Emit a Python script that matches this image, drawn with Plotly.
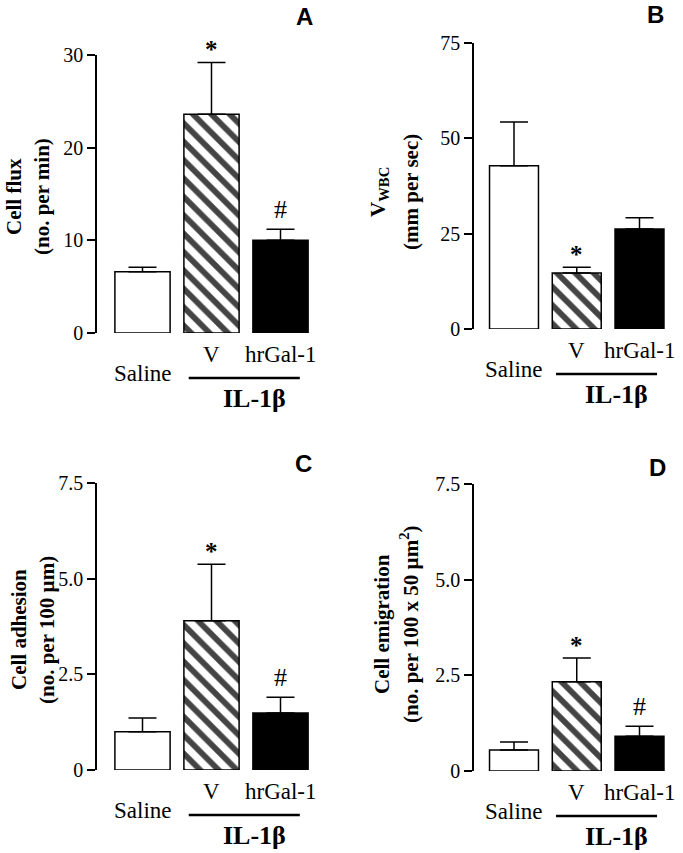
import plotly.graph_objects as go

# ---------------- data ----------------
categories = ["Saline", "V", "hrGal-1"]

cell_flux = [6.6, 23.6, 10.0]
cell_flux_err = [0.5, 5.6, 1.2]

v_wbc = [42.8, 14.7, 26.2]
v_wbc_err = [11.5, 1.5, 3.0]

cell_adhesion = [1.0, 3.9, 1.49]
cell_adhesion_err = [0.36, 1.48, 0.41]

cell_emigration = [0.55, 2.33, 0.91]
cell_emigration_err = [0.21, 0.62, 0.26]

marks_A = ["", "*", "#"]
marks_B = ["", "*", ""]
marks_C = ["", "*", "#"]
marks_D = ["", "*", "#"]

ticks_A = [0, 10, 20, 30]
ticks_B = [0, 25, 50, 75]
ticks_CD = [0, 2.5, 5.0, 7.5]
ticktext_A = ["0", "10", "20", "30"]
ticktext_B = ["0", "25", "50", "75"]
ticktext_CD = ["0", "2.5", "5.0", "7.5"]

group_label = "IL-1β"

# ---------------- layout helpers ----------------
W, H = 683, 853
SERIF = "Liberation Serif, Times New Roman, serif"
SANS = "Liberation Sans, Arial, sans-serif"


def px_x(x):
    return x / W


def px_y(y):
    return (H - y) / H


fills = ["white", "white", "black"]
patterns = ["", "\\", ""]

panels = [
    dict(name="A", vals=cell_flux, err=cell_flux_err, marks=marks_A,
         tv=ticks_A, tt=ticktext_A, ymax=30, bw=0.8,
         axis_x=97, first_c=142.5, step=69, right=320, y0=333, ytop=55,
         title=["<b>Cell flux</b>", "<b>(no. per min)</b>"],
         tx=[14, 42], ty=197, lab=(304, 17)),
    dict(name="B", vals=v_wbc, err=v_wbc_err, marks=marks_B,
         tv=ticks_B, tt=ticktext_B, ymax=75, bw=0.78,
         axis_x=474, first_c=514, step=62.75, right=680, y0=329, ytop=43,
         title=["<b>V<sub>WBC</sub></b>", "<b>(mm per sec)</b>"],
         tx=[379, 411], ty=192, lab=(655, 15)),
    dict(name="C", vals=cell_adhesion, err=cell_adhesion_err, marks=marks_C,
         tv=ticks_CD, tt=ticktext_CD, ymax=7.5, bw=0.8,
         axis_x=97, first_c=142.5, step=69, right=320, y0=770, ytop=483,
         title=["<b>Cell adhesion</b>", "<b>(no. per 100 µm)</b>"],
         tx=[19, 47], ty=630, lab=(303, 463)),
    dict(name="D", vals=cell_emigration, err=cell_emigration_err, marks=marks_D,
         tv=ticks_CD, tt=ticktext_CD, ymax=7.5, bw=0.78,
         axis_x=474, first_c=514, step=62.75, right=680, y0=771, ytop=484,
         title=["<b>Cell emigration</b>", "<b>(no. per 100 x 50 µm<sup>2</sup>)</b>"],
         tx=[382, 409], ty=624, lab=(657, 467)),
]

fig = go.Figure()
annotations = []
shapes = []

for i, p in enumerate(panels):
    k = "" if i == 0 else str(i + 1)
    xa, ya = "x" + k, "y" + k
    fig.add_trace(go.Bar(
        x=categories, y=p["vals"], xaxis=xa, yaxis=ya, width=p["bw"],
        marker=dict(color=fills, line=dict(color="black", width=1.5),
                    pattern=dict(shape=patterns, fillmode="overlay",
                                 fgcolor="black", fgopacity=1,
                                 size=13, solidity=0.45)),
        error_y=dict(type="data", symmetric=False, array=p["err"],
                     arrayminus=[0, 0, 0], color="black", thickness=1.5, width=14),
        showlegend=False, hoverinfo="skip",
    ))
    xmin = -(p["first_c"] - p["axis_x"]) / p["step"]
    xmax = (p["right"] - p["first_c"]) / p["step"]
    fig.update_layout(**{
        ("xaxis" + k): dict(domain=[px_x(p["axis_x"]), px_x(p["right"])],
                            type="category", categoryarray=categories,
                            range=[xmin, xmax], showticklabels=False,
                            showline=False, showgrid=False, zeroline=False,
                            anchor=ya, fixedrange=True, automargin=False),
        ("yaxis" + k): dict(domain=[px_y(p["y0"]), px_y(p["ytop"])],
                            range=[0, p["ymax"]], tickvals=p["tv"], ticktext=p["tt"],
                            showline=True, linecolor="black", linewidth=1.5,
                            ticks="outside", ticklen=8, tickwidth=1.5, tickcolor="black",
                            tickfont=dict(family=SERIF, size=20, color="black"),
                            showgrid=False, zeroline=False, anchor=xa,
                            fixedrange=True, automargin=False),
    })
    # category labels
    for j, c in enumerate(categories):
        annotations.append(dict(
            x=c, y=0, xref=xa, yref=ya, text=c, showarrow=False,
            xanchor="center", yanchor="middle",
            yshift=-(40 if j == 0 else 21),
            font=dict(family=SERIF, size=23, color="black")))
    # significance marks
    for j, m in enumerate(p["marks"]):
        if m:
            annotations.append(dict(
                x=categories[j], y=p["vals"][j] + p["err"][j], xref=xa, yref=ya,
                text=("<b>*</b>" if m == "*" else m), showarrow=False,
                xanchor="center", yanchor="middle",
                yshift=(13 if m == "*" else 20),
                font=dict(family=SERIF, size=(25 if m == "*" else 26), color="black")))
    # IL-1β bracket line + label
    line_y = px_y(p["y0"] + 45)
    shapes.append(dict(type="line", xref=xa, yref="paper",
                       x0=1 - 0.33, x1=2 + 0.28, y0=line_y, y1=line_y,
                       line=dict(color="black", width=2.5)))
    annotations.append(dict(
        x=1.63, y=px_y(p["y0"] + 65), xref=xa, yref="paper",
        text="<b>" + group_label + "</b>", showarrow=False,
        xanchor="center", yanchor="middle",
        font=dict(family=SERIF, size=26, color="black")))
    # y titles (two lines)
    for t, tx in zip(p["title"], p["tx"]):
        annotations.append(dict(
            x=px_x(tx), y=px_y(p["ty"]), xref="paper", yref="paper",
            text=t, showarrow=False, textangle=-90,
            xanchor="center", yanchor="middle",
            font=dict(family=SERIF, size=21, color="black")))
    # panel letter
    annotations.append(dict(
        x=px_x(p["lab"][0]), y=px_y(p["lab"][1]), xref="paper", yref="paper",
        text="<b>" + p["name"] + "</b>", showarrow=False,
        xanchor="center", yanchor="middle",
        font=dict(family=SANS, size=24, color="black")))

fig.update_layout(
    width=W, height=H, autosize=False,
    margin=dict(l=0, r=0, t=0, b=0, pad=0, autoexpand=False),
    paper_bgcolor="white", plot_bgcolor="white",
    annotations=annotations, shapes=shapes,
)

fig.write_html(
    "out.html",
    config={"displayModeBar": False, "responsive": False},
    post_script=("document.documentElement.style.margin='0px';"
                 "document.documentElement.style.overflow='hidden';"
                 "document.body.style.margin='0px';"
                 "document.body.style.overflow='hidden';"),
)
